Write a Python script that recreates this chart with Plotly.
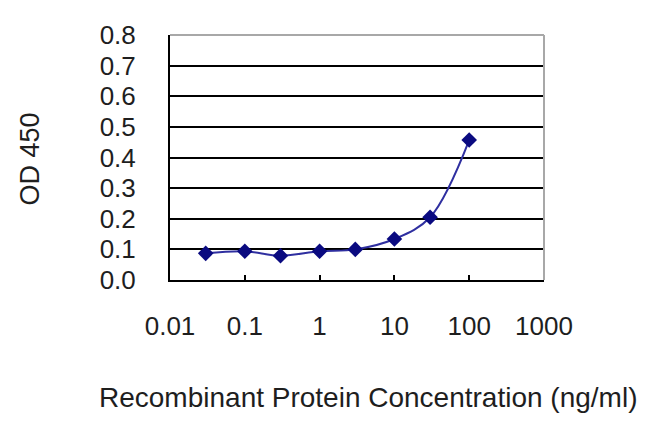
import plotly.graph_objects as go

# Data
concentration = [0.03, 0.1, 0.3, 1, 3, 10, 30, 100]
od450 = [0.087, 0.094, 0.079, 0.094, 0.100, 0.134, 0.205, 0.457]

y_ticks = [0.0, 0.1, 0.2, 0.3, 0.4, 0.5, 0.6, 0.7, 0.8]
y_tick_labels = ["0.0", "0.1", "0.2", "0.3", "0.4", "0.5", "0.6", "0.7", "0.8"]
x_ticks = [0.01, 0.1, 1, 10, 100, 1000]
x_tick_labels = ["0.01", "0.1", "1", "10", "100", "1000"]

x_title = "Recombinant Protein Concentration (ng/ml)"
y_title = "OD 450"

FONT = "Liberation Sans, Arial, sans-serif"
TXT = "#1e1e1e"

fig = go.Figure()
fig.add_trace(go.Scatter(
    x=concentration, y=od450,
    mode="lines+markers",
    line=dict(color="#2f2fa0", width=2, shape="spline", smoothing=1.0),
    marker=dict(symbol="diamond", size=12, color="#0a0a80"),
    showlegend=False,
))

# page body has an 8px margin, so the figure is 8px smaller and shifted
fig.update_layout(
    width=642, height=425,
    margin=dict(l=162, r=106, t=22, b=153),
    paper_bgcolor="white", plot_bgcolor="white",
    font=dict(family=FONT, size=26, color=TXT),
    xaxis=dict(
        type="log", range=[-2, 3],
        tickvals=x_ticks, ticktext=x_tick_labels,
        showgrid=False, zeroline=False,
        showline=True, linecolor="black", linewidth=2,
        ticks="inside", ticklen=5, tickwidth=1.5, tickcolor="black",
        tickfont=dict(size=26, family=FONT, color=TXT),
        ticklabelstandoff=22,
    ),
    yaxis=dict(
        range=[0, 0.8],
        tickvals=y_ticks, ticktext=y_tick_labels,
        showgrid=True, gridcolor="black", gridwidth=1.8,
        zeroline=False,
        showline=True, linecolor="black", linewidth=2,
        ticks="", tickfont=dict(size=26, family=FONT, color=TXT),
        ticklabelstandoff=27,
    ),
    shapes=[
        dict(type="line", xref="paper", yref="paper", x0=0, x1=1, y0=1, y1=1,
             line=dict(color="#a8a8a8", width=2), layer="above"),
        dict(type="line", xref="paper", yref="paper", x0=1, x1=1, y0=0, y1=1,
             line=dict(color="#a8a8a8", width=2), layer="above"),
    ],
    annotations=[
        dict(text=x_title, xref="paper", yref="paper", x=0.529, y=-0.48,
             showarrow=False, font=dict(size=28, family=FONT, color=TXT),
             xanchor="center", yanchor="middle"),
        dict(text=y_title, xref="paper", yref="paper", x=-0.374, y=0.492,
             showarrow=False, textangle=-90,
             font=dict(size=27, family=FONT, color=TXT),
             xanchor="center", yanchor="middle"),
    ],
)

fig.write_html("out.html")
